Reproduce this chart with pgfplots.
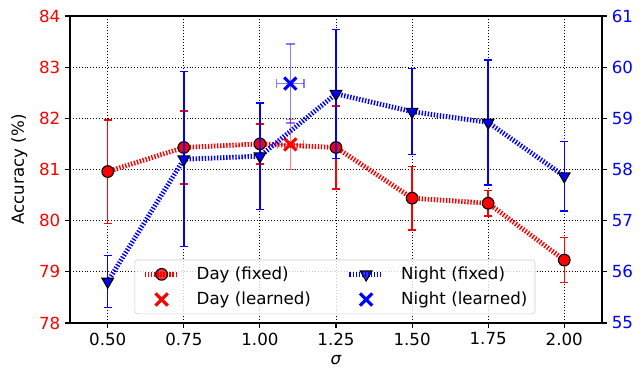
\documentclass[border=0pt]{standalone}
\usepackage{fontspec}
\setmainfont{DejaVu Sans}
\usepackage{pgfplots}
\pgfplotsset{compat=1.18}
\definecolor{mplred}{RGB}{255,0,0}
\definecolor{mplblue}{RGB}{0,0,255}
\newcommand{\ff}{\fontsize{12}{14.4}\selectfont}
\pgfplotsset{
  common/.style={
    scale only axis, width=383.04pt, height=221.04pt,
    at={(0pt,0pt)}, anchor=south west,
    xmin=0.376, xmax=2.124,
    /pgf/number format/assume math mode=true,
    tick align=outside, major tick length=3.5pt,
    tick style={black, line width=0.8pt},
    axis line style={line width=0.8pt},
    tick label style={font=\ff},
    label style={font=\ff},
    legend style={font=\ff},
  },
  dayline/.style={mplred, line width=3.5pt, dash pattern=on 1pt off 1.2pt,
    mark=*, mark size=4.2pt, mark options={solid, fill=mplred, draw=black, line width=0.8pt}},
  nightline/.style={mplblue, line width=3.5pt, dash pattern=on 1pt off 1.2pt,
    mark=triangle*, mark size=4.8pt, mark options={solid, rotate=180, fill=mplblue, draw=black, line width=0.8pt}},
  learned/.style={only marks, mark=x, mark size=6.2pt, #1, mark options={line width=2.2pt}},
}
\begin{document}
\begin{tikzpicture}
\path[use as bounding box] (-50.4pt,-42.48pt) rectangle (411.12pt,232.56pt);
% left axis: Day
\begin{axis}[common,
  ymin=78, ymax=84, ytick={78,79,80,81,82,83,84},
  xtick={0.5,0.75,1,1.25,1.5,1.75,2},
  x tick label style={/pgf/number format/fixed, /pgf/number format/fixed zerofill, /pgf/number format/precision=2},
  xtick pos=left, ytick pos=left,
  y tick label style={mplred},
  grid=major,
  major grid style={black, line width=0.7pt, dash pattern=on 0.7pt off 1.4pt},
  xlabel={\itshape σ}, ylabel={Accuracy (\%)}, ylabel shift=1.5pt,
]
\addplot[dayline,
  error bars/.cd, y dir=both, y explicit,
  error bar style={mplred, line width=1pt, solid},
  error mark options={rotate=90, mplred, mark size=3pt, line width=1pt, solid}]
  coordinates {
  (0.50,80.96) +- (0,1.01)
  (0.75,81.43) +- (0,0.71)
  (1.00,81.50) +- (0,0.39)
  (1.25,81.43) +- (0,0.81)
  (1.50,80.44) +- (0,0.62)
  (1.75,80.34) +- (0,0.25)
  (2.00,79.23) +- (0,0.44)
};
\addplot[learned=mplred,
  error bars/.cd, y dir=both, y explicit, x dir=both, x explicit,
  error bar style={mplred, opacity=0.5, line width=1pt},
  error mark options={rotate=90, mplred, opacity=0.5, mark size=3pt, line width=1pt}]
  coordinates {(1.10,81.49) +- (0.043,0.49)};
\end{axis}
% right axis: Night
\begin{axis}[common,
  ymin=55, ymax=61, ytick={55,56,57,58,59,60,61},
  hide x axis,
  ytick pos=right, yticklabel pos=right,
  y tick label style={mplblue},
  legend columns=2,
  legend cell align=left,
  legend style={at={(0.498,0.029)}, anchor=south, draw=black!20, rounded corners=2pt,
    fill=white, fill opacity=0.8, text opacity=1,
    inner xsep=5.5pt, inner ysep=5pt, row sep=7.5pt,
    nodes={inner sep=0pt},
    /tikz/every odd column/.style={column sep=11.5pt},
    /tikz/column 2/.style={column sep=26pt}},
  legend image code/.code={\draw[mark repeat=2,mark phase=2,#1] plot coordinates {(0pt,0pt) (12pt,0pt) (24pt,0pt)};},
]
\addlegendimage{dayline}
\addlegendentry{Day (fixed)}
\addlegendimage{nightline}
\addlegendentry{Night (fixed)}
\addlegendimage{learned=mplred}
\addlegendentry{Day (learned)}
\addlegendimage{learned=mplblue}
\addlegendentry{Night (learned)}
\addplot[nightline, forget plot,
  error bars/.cd, y dir=both, y explicit,
  error bar style={mplblue, line width=1pt, solid},
  error mark options={rotate=90, mplblue, mark size=3pt, line width=1pt, solid}]
  coordinates {
  (0.50,55.81) +- (0,0.51)
  (0.75,58.20) +- (0,1.71)
  (1.00,58.26) +- (0,1.04)
  (1.25,59.48) +- (0,1.26)
  (1.50,59.13) +- (0,0.84)
  (1.75,58.92) +- (0,1.22)
  (2.00,57.87) +- (0,0.68)
};
\addplot[learned=mplblue, forget plot,
  error bars/.cd, y dir=both, y explicit, x dir=both, x explicit,
  error bar style={mplblue, opacity=0.5, line width=1pt},
  error mark options={rotate=90, mplblue, opacity=0.5, mark size=3pt, line width=1pt}]
  coordinates {(1.10,59.68) +- (0.045,0.77)};
\end{axis}
\end{tikzpicture}
\end{document}
